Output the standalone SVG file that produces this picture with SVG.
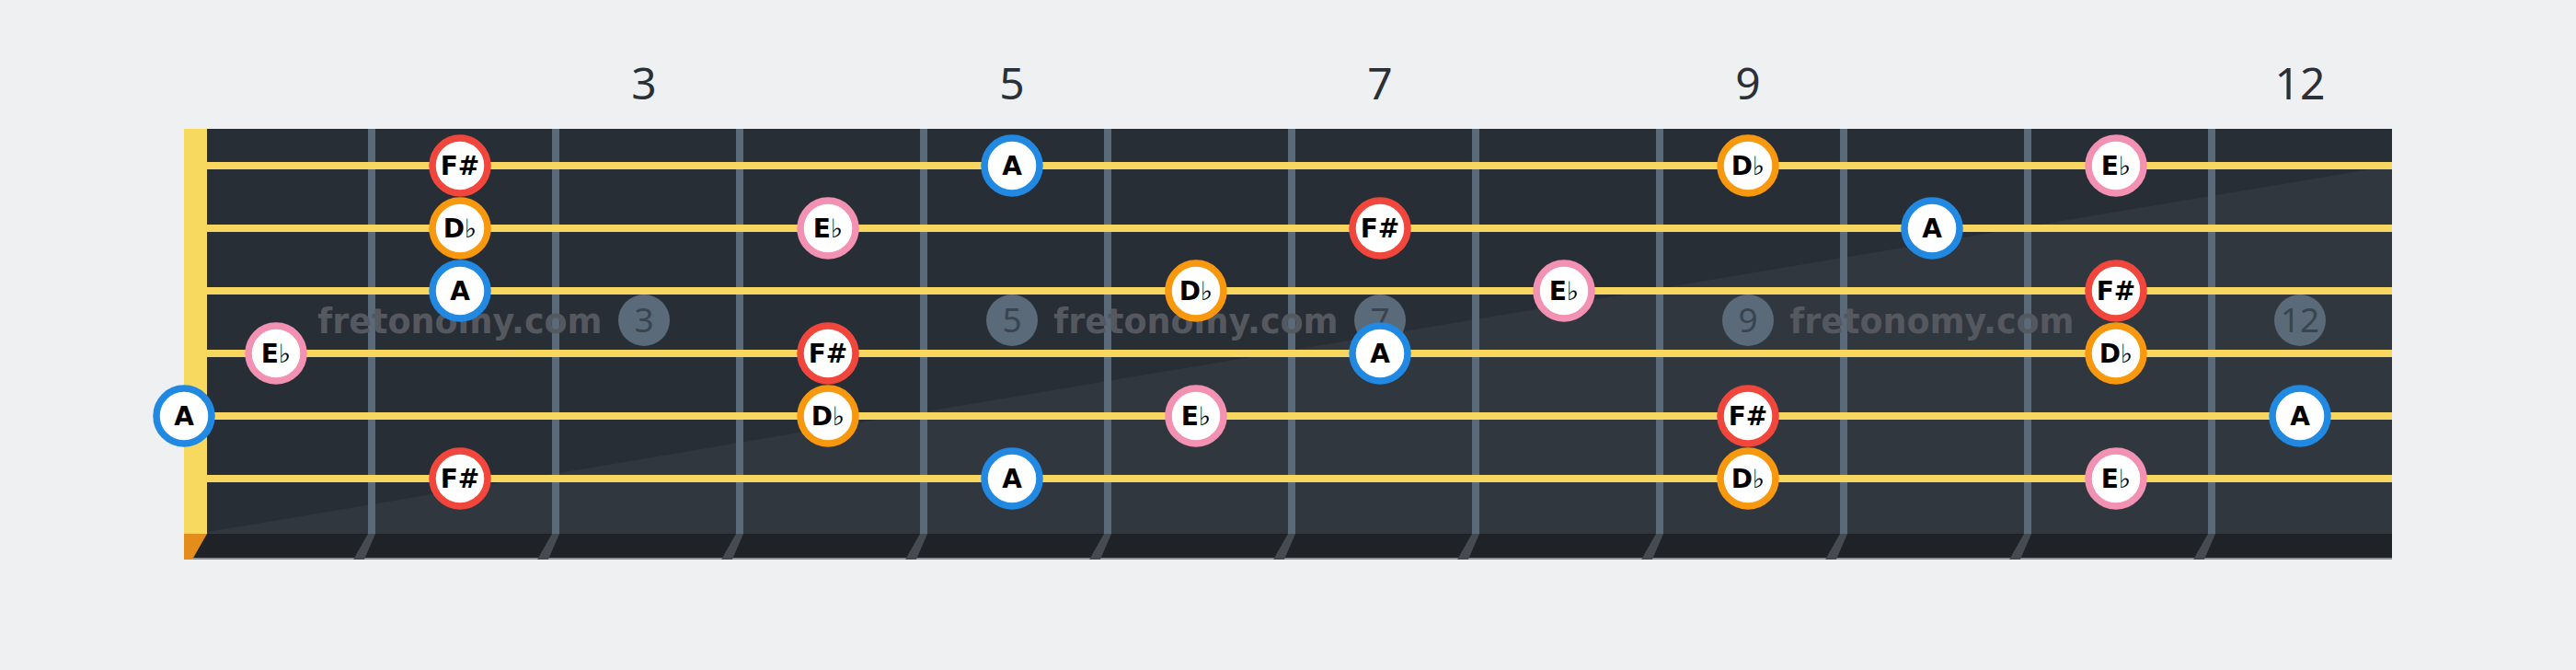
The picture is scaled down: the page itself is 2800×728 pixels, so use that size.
<svg xmlns="http://www.w3.org/2000/svg" width="2800" height="728" viewBox="0 0 2800 728">
<style>
.fw{fill:#5a6a79}
.st{fill:#f8d760}
.fb{fill:#464b51}
.lbl{font-family:"Noto Sans","Open Sans",sans-serif;font-size:48px;fill:#2a3038;text-anchor:middle}
.wm{font-family:"DejaVu Sans",sans-serif;font-weight:bold;font-size:36.5px;fill:#55585e;text-anchor:middle}
.bd circle{fill:#5a6a78}
.bd text{font-family:"Noto Sans","DejaVu Sans",sans-serif;font-size:37px;fill:#3a4450;text-anchor:middle}
.n circle{fill:#ffffff;stroke-width:7.5}
.n text{font-family:"DejaVu Sans",sans-serif;font-weight:bold;font-size:28px;fill:#000;text-anchor:middle}
.n tspan{font-weight:normal}
.fs circle{stroke:#f0463b}
.db circle{stroke:#f8980f}
.a circle{stroke:#2189e1}
.eb circle{stroke:#f391b3}
</style>
<rect x="0" y="0" width="2800" height="728" fill="#eef0f2"/>
<g id="fret-numbers">
<text class="lbl" x="700" y="108">3</text>
<text class="lbl" x="1100" y="108">5</text>
<text class="lbl" x="1500" y="108">7</text>
<text class="lbl" x="1900" y="108">9</text>
<text class="lbl" x="2500" y="108">12</text>
</g>
<g id="board">
<rect x="200" y="140" width="2400" height="440" fill="#282e36"/>
<polygon points="225,578 2600,180 2600,580 225,580" fill="#31373f"/>
<rect x="200" y="580" width="2400" height="28" fill="#1f2327"/>
<rect x="200" y="606" width="2400" height="2" fill="#8c9096"/>
<rect x="200" y="140" width="25" height="440" fill="#f8d960"/>
<polygon points="200,580 225,580 209,608 200,608" fill="#e58d1c"/>
</g>
<g id="frets">
<rect class="fw" x="400" y="140" width="8" height="440"/>
<rect class="fw" x="600" y="140" width="8" height="440"/>
<rect class="fw" x="800" y="140" width="8" height="440"/>
<rect class="fw" x="1000" y="140" width="8" height="440"/>
<rect class="fw" x="1200" y="140" width="8" height="440"/>
<rect class="fw" x="1400" y="140" width="8" height="440"/>
<rect class="fw" x="1600" y="140" width="8" height="440"/>
<rect class="fw" x="1800" y="140" width="8" height="440"/>
<rect class="fw" x="2000" y="140" width="8" height="440"/>
<rect class="fw" x="2200" y="140" width="8" height="440"/>
<rect class="fw" x="2400" y="140" width="8" height="440"/>
<polygon class="fb" points="400,580 408,580 396,608 384,608"/>
<polygon class="fb" points="600,580 608,580 596,608 584,608"/>
<polygon class="fb" points="800,580 808,580 796,608 784,608"/>
<polygon class="fb" points="1000,580 1008,580 996,608 984,608"/>
<polygon class="fb" points="1200,580 1208,580 1196,608 1184,608"/>
<polygon class="fb" points="1400,580 1408,580 1396,608 1384,608"/>
<polygon class="fb" points="1600,580 1608,580 1596,608 1584,608"/>
<polygon class="fb" points="1800,580 1808,580 1796,608 1784,608"/>
<polygon class="fb" points="2000,580 2008,580 1996,608 1984,608"/>
<polygon class="fb" points="2200,580 2208,580 2196,608 2184,608"/>
<polygon class="fb" points="2400,580 2408,580 2396,608 2384,608"/>
</g>
<g id="watermarks">
<text class="wm" x="500" y="362">fretonomy.com</text>
<text class="wm" x="1300" y="362">fretonomy.com</text>
<text class="wm" x="2100" y="362">fretonomy.com</text>
</g>
<g id="badges" class="bd">
<circle cx="700" cy="348" r="28"/><text x="700" y="361">3</text>
<circle cx="1100" cy="348" r="28"/><text x="1100" y="361">5</text>
<circle cx="1500" cy="348" r="28"/><text x="1500" y="361">7</text>
<circle cx="1900" cy="348" r="28"/><text x="1900" y="361">9</text>
<circle cx="2500" cy="348" r="28"/><text x="2500" y="361">12</text>
</g>
<g id="strings">
<rect class="st" x="225" y="176" width="2375" height="8"/>
<rect class="st" x="225" y="244" width="2375" height="8"/>
<rect class="st" x="225" y="312" width="2375" height="8"/>
<rect class="st" x="225" y="380" width="2375" height="8"/>
<rect class="st" x="225" y="448" width="2375" height="8"/>
<rect class="st" x="225" y="516" width="2375" height="8"/>
</g>
<g id="connectors"/>
<g id="s1-f2" class="n fs"><circle cx="500" cy="180" r="30"/><text x="500" y="190">F#</text></g>
<g id="s1-f5" class="n a"><circle cx="1100" cy="180" r="30"/><text x="1100" y="190">A</text></g>
<g id="s1-f9" class="n db"><circle cx="1900" cy="180" r="30"/><text x="1900" y="190">D<tspan>♭</tspan></text></g>
<g id="s1-f11" class="n eb"><circle cx="2300" cy="180" r="30"/><text x="2300" y="190">E<tspan>♭</tspan></text></g>
<g id="s2-f2" class="n db"><circle cx="500" cy="248" r="30"/><text x="500" y="258">D<tspan>♭</tspan></text></g>
<g id="s2-f4" class="n eb"><circle cx="900" cy="248" r="30"/><text x="900" y="258">E<tspan>♭</tspan></text></g>
<g id="s2-f7" class="n fs"><circle cx="1500" cy="248" r="30"/><text x="1500" y="258">F#</text></g>
<g id="s2-f10" class="n a"><circle cx="2100" cy="248" r="30"/><text x="2100" y="258">A</text></g>
<g id="s3-f2" class="n a"><circle cx="500" cy="316" r="30"/><text x="500" y="326">A</text></g>
<g id="s3-f6" class="n db"><circle cx="1300" cy="316" r="30"/><text x="1300" y="326">D<tspan>♭</tspan></text></g>
<g id="s3-f8" class="n eb"><circle cx="1700" cy="316" r="30"/><text x="1700" y="326">E<tspan>♭</tspan></text></g>
<g id="s3-f11" class="n fs"><circle cx="2300" cy="316" r="30"/><text x="2300" y="326">F#</text></g>
<g id="s4-f1" class="n eb"><circle cx="300" cy="384" r="30"/><text x="300" y="394">E<tspan>♭</tspan></text></g>
<g id="s4-f4" class="n fs"><circle cx="900" cy="384" r="30"/><text x="900" y="394">F#</text></g>
<g id="s4-f7" class="n a"><circle cx="1500" cy="384" r="30"/><text x="1500" y="394">A</text></g>
<g id="s4-f11" class="n db"><circle cx="2300" cy="384" r="30"/><text x="2300" y="394">D<tspan>♭</tspan></text></g>
<g id="s5-f0" class="n a"><circle cx="200" cy="452" r="30"/><text x="200" y="462">A</text></g>
<g id="s5-f4" class="n db"><circle cx="900" cy="452" r="30"/><text x="900" y="462">D<tspan>♭</tspan></text></g>
<g id="s5-f6" class="n eb"><circle cx="1300" cy="452" r="30"/><text x="1300" y="462">E<tspan>♭</tspan></text></g>
<g id="s5-f9" class="n fs"><circle cx="1900" cy="452" r="30"/><text x="1900" y="462">F#</text></g>
<g id="s5-f12" class="n a"><circle cx="2500" cy="452" r="30"/><text x="2500" y="462">A</text></g>
<g id="s6-f2" class="n fs"><circle cx="500" cy="520" r="30"/><text x="500" y="530">F#</text></g>
<g id="s6-f5" class="n a"><circle cx="1100" cy="520" r="30"/><text x="1100" y="530">A</text></g>
<g id="s6-f9" class="n db"><circle cx="1900" cy="520" r="30"/><text x="1900" y="530">D<tspan>♭</tspan></text></g>
<g id="s6-f11" class="n eb"><circle cx="2300" cy="520" r="30"/><text x="2300" y="530">E<tspan>♭</tspan></text></g>
</svg>
